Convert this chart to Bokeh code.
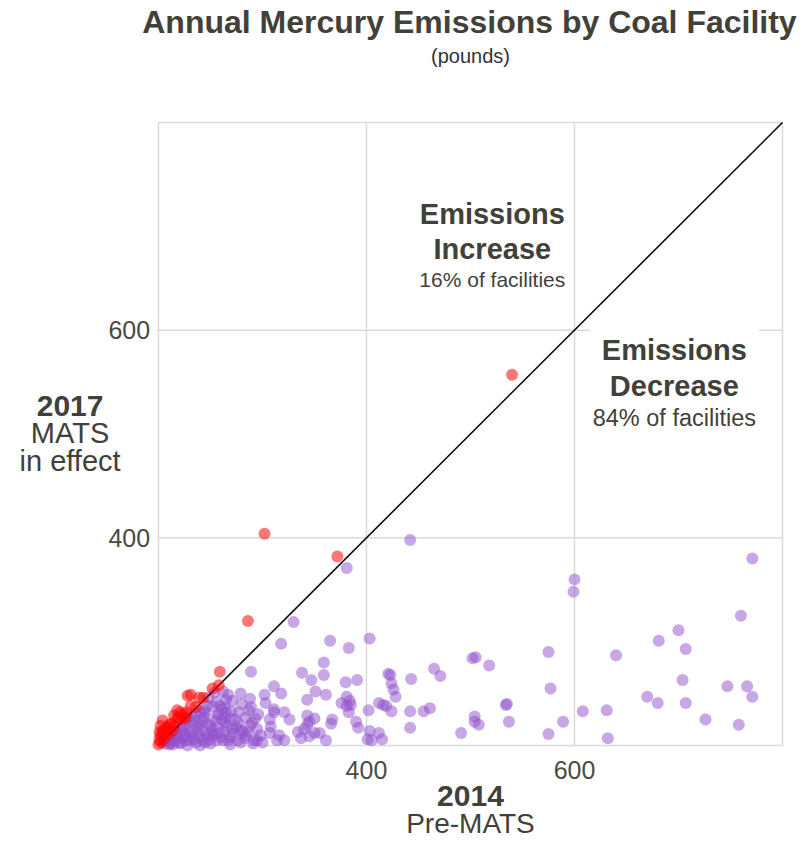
from bokeh.plotting import figure
from bokeh.models import Range1d
from bokeh.core.properties import value
from bokeh.embed import file_html
from bokeh.resources import INLINE

# ---- data (pounds of mercury), 2014 (x) vs 2017 (y) ----
purple_x = [771, 760, 700, 681, 707, 640, 704, 747, 766, 771, 670, 680, 707, 631, 726, 758, 632, 600, 599,
            502, 505, 518, 575, 577, 535, 534, 608, 504, 504, 508, 537, 589, 491, 575, 471,
            381, 442, 330, 318, 365, 383, 403, 359, 338, 289, 347, 359, 380, 391, 421, 423, 465, 443, 424,
            426, 428, 311, 318, 302, 351, 361, 381, 384, 385, 381, 376, 383, 343, 402, 412, 416, 419, 424,
            442, 455, 461, 442, 350, 345, 343, 340, 367, 366, 390, 392, 403, 405, 401, 412, 415, 350, 355,
            345, 361, 326, 321, 311, 311, 307, 308, 307, 316, 314, 321, 295, 334, 337, 343, 288, 289, 287,
            284, 277, 275, 281, 292, 291, 267, 269, 262, 254, 259, 261, 264, 265, 264, 261, 244, 245, 243,
            256, 244, 247, 237, 231, 224, 234, 240, 250, 256, 263, 269, 276, 256, 221, 228, 240, 250, 214,
            212, 229, 236, 250, 253, 264, 271, 284, 298, 300, 279, 260, 245, 238, 226, 219, 269, 277, 252,
            240, 233, 223, 216, 210, 288, 293, 303, 271, 279, 267, 248,
            206, 208, 211, 215, 218, 222, 226, 230, 233, 236, 242, 246, 249, 252, 255, 258, 262, 266, 272,
            274, 279, 283, 286, 290, 295, 240, 232, 228, 220, 217, 247, 256, 265, 226, 243, 236, 258, 270,
            280, 296]
purple_y = [380, 325, 311, 301, 293, 287, 263, 257, 257, 247, 247, 241, 241, 234, 225, 220, 207, 360, 348,
            284, 285, 277, 290, 255, 240, 239, 233, 228, 223, 220, 223, 223, 212, 211, 267,
            371, 398, 319, 298, 301, 294, 303, 280, 270, 271, 263, 268, 261, 263, 269, 268, 274, 264, 260,
            254, 247, 257, 250, 249, 252, 249, 247, 243, 239, 238, 241, 232, 244, 234, 241, 239, 238, 233,
            233, 233, 236, 217, 226, 223, 220, 216, 225, 221, 223, 217, 214, 205, 206, 212, 206, 212, 212,
            209, 205, 225, 232, 235, 232, 225, 218, 212, 210, 205, 205, 216, 213, 207, 229, 245, 237, 234,
            227, 221, 217, 213, 205, 202, 205, 201, 252, 251, 238, 235, 237, 232, 227, 225, 234, 231, 224,
            229, 227, 221, 218, 213, 208, 206, 208, 211, 218, 214, 208, 205, 205, 202, 200, 200, 202, 201,
            202, 216, 224, 219, 210, 222, 216, 210, 210, 203, 203, 208, 203, 213, 205, 207, 226, 232, 238,
            232, 222, 214, 205, 201, 219, 226, 241, 243, 250, 249, 246,
            202, 204, 206, 209, 212, 218, 220, 205, 210, 203, 215, 210, 206, 215, 224, 212, 205, 218, 211,
            225, 215, 207, 213, 222, 205, 220, 228, 225, 203, 214, 238, 242, 244, 210, 205, 231, 230, 233,
            240, 230]

red_x = [540, 302, 372, 286, 259, 258, 252, 231, 239, 243, 218, 215, 224, 223, 226, 211, 207, 204, 202,
         201, 200, 202, 221, 218, 212, 209, 205, 228, 231, 236, 213, 209, 205, 219, 202, 201, 204, 227, 215]
red_y = [557, 404, 382, 320, 271, 258, 255, 249, 246, 246, 234, 229, 230, 225, 227, 220, 216, 214, 210,
         206, 201, 203, 232, 226, 221, 218, 211, 248, 238, 237, 214, 210, 206, 226, 219, 213, 224, 232, 218]

ticks = [400, 600]
tick_labels = ["400", "600"]
axis_min, axis_max = 200, 800

TXT = "#414139"
FONT = "Liberation Sans"

# the frame covers the whole canvas; the chart box (200..800) is drawn inside it
p = figure(width=811, height=842, output_backend="svg", toolbar_location=None,
           x_range=Range1d(48.1, 827.9), y_range=Range1d(106.6, 917.5),
           x_axis_location=None, y_axis_location=None, min_border=0)
p.outline_line_color = None
p.background_fill_color = "white"
p.border_fill_color = "white"
p.grid.visible = False

GRID = "#dadada"
n = len(ticks)
p.segment(x0=ticks, y0=[axis_min] * n, x1=ticks, y1=[axis_max] * n, line_color=GRID, line_width=1.5)
p.segment(x0=[axis_min] * n, y0=ticks, x1=[axis_max] * n, y1=ticks, line_color=GRID, line_width=1.5)
p.segment(x0=[axis_min, axis_min, axis_max, axis_min], y0=[axis_min, axis_min, axis_min, axis_max],
          x1=[axis_max, axis_min, axis_max, axis_max], y1=[axis_min, axis_max, axis_max, axis_max],
          line_color=GRID, line_width=1.5)

# tick labels
p.text(x=ticks, y=[axis_min - 24] * n, text=tick_labels, text_font=value(FONT), text_font_size="25px",
       text_color="#4a4a44", text_align="center", text_baseline="middle")
p.text(x=[axis_min - 8] * n, y=ticks, text=tick_labels, text_font=value(FONT), text_font_size="25px",
       text_color="#4a4a44", text_align="right", text_baseline="middle")

p.scatter(purple_x, purple_y, size=12, fill_color="#9050cc", fill_alpha=0.5, line_color=None)
p.line([axis_min, axis_max], [axis_min, axis_max], line_color="black", line_width=1.5)
p.scatter(red_x, red_y, size=12, fill_color="#ff0000", fill_alpha=0.53, line_color=None)


def lab(x, y, text, size, bold=False, color=TXT, bg=None):
    r = p.text(x=[x], y=[y], text=[text], text_font=value(FONT), text_font_size=size,
               text_font_style="bold" if bold else "normal", text_color=color,
               text_align="center", text_baseline="middle")
    if bg:
        r.glyph.background_fill_color = bg
        r.glyph.padding = 12


lab(499, 897, "Annual Mercury Emissions by Coal Facility", "32px", True)
lab(500, 864, "(pounds)", "20px", False, "#333333")

lab(115, 527, "2017", "30px", True)
lab(115, 501, "MATS", "29px")
lab(115, 474, "in effect", "29px")

lab(500, 151, "2014", "30px", True)
lab(500, 125, "Pre-MATS", "28px")

lab(521, 712, "Emissions", "29px", True)
lab(521, 678, "Increase", "29px", True)
lab(521, 649, "16% of facilities", "21px")

lab(696, 581, "Emissions", "29px", True, bg="white")
lab(696, 546, "Decrease", "29px", True)
lab(696, 515, "84% of facilities", "23.5px")

open("out.html", "w").write(file_html(p, INLINE))
